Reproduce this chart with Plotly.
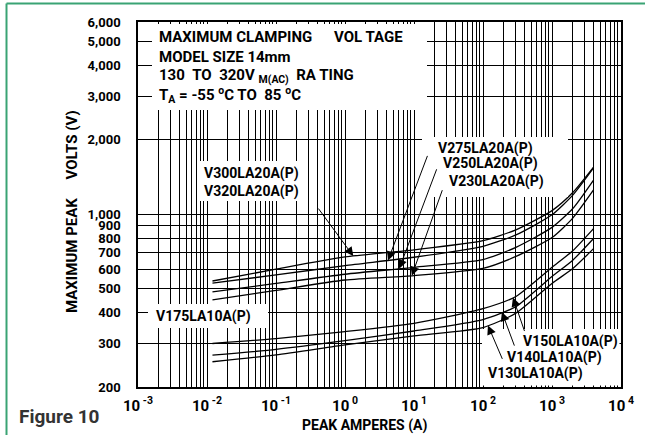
import numpy as np
import plotly.graph_objects as go

# ---------------- data ----------------
current_a = [0.012, 0.1, 1, 10, 100, 300, 1000, 2000, 4000]

v300_v320 = [537, 600, 672, 718, 782, 865, 1035, 1225, 1553]
v275 = [527, 568, 620, 670, 742, 825, 995, 1195, 1540]
v250 = [485, 525, 572, 610, 656, 735, 885, 1055, 1376]
v230 = [450, 492, 542, 565, 604, 675, 805, 965, 1254]
v150 = [300, 314, 335, 362, 415, 465, 610, 712, 875]
v140 = [269, 284, 308, 337, 375, 423, 560, 652, 798]
v130 = [253, 270, 296, 322, 348, 398, 525, 603, 726]

y_tick_vals = [200, 300, 400, 500, 600, 700, 800, 900, 1000, 2000, 3000, 4000, 5000, 6000]
y_tick_text = ["200", "300", "400", "500", "600", "700", "800", "900",
               "1,000", "2,000", "3,000", "4,000", "5,000", "6,000"]
x_decades = [-3, -2, -1, 0, 1, 2, 3, 4]

# arrow targets: (label, curve, current where the arrow touches)
arrow_targets = [
    ("V300", v300_v320, 1.32),
    ("V275", v275, 4.2),
    ("V250", v250, 6.1),
    ("V230", v230, 9.3),
    ("V150", v150, 272),
    ("V140", v140, 188),
    ("V130", v130, 118),
]

# ---------------- layout geometry ----------------
W, H = 645, 435
L, R, T, B = 138, 621, 22, 387  # plot area in pixels


def px(x):
    return (x - L) / (R - L)


def py(y):
    return (B - y) / (B - T)


FONT = "Roboto, Liberation Sans, Arial, sans-serif"

fig = go.Figure()

for ys in [v300_v320, v275, v250, v230, v150, v140, v130]:
    fig.add_trace(go.Scatter(
        x=current_a, y=ys, mode="lines",
        line=dict(color="black", width=1.3, shape="spline", smoothing=0.6),
        hoverinfo="skip", showlegend=False))

major_x = [10.0 ** d for d in x_decades]
major_x_text = [f"10<sup> {d}</sup>" for d in x_decades]
minor_x = [m * 10.0 ** d for d in x_decades[:-1] for m in range(2, 10)]

fig.update_xaxes(
    type="log", range=[-3, 4],
    tickmode="array", tickvals=major_x, ticktext=major_x_text,
    showgrid=True, gridcolor="black", gridwidth=1,
    minor=dict(tickmode="array", tickvals=minor_x, showgrid=True,
               gridcolor="black", gridwidth=1, ticks=""),
    showline=True, linecolor="black", linewidth=1.5, mirror=True,
    ticks="", ticklabelstandoff=4,
    tickfont=dict(family=FONT, size=15, color="black", weight="bold"),
    zeroline=False,
)
fig.update_yaxes(
    type="log", range=[np.log10(200), np.log10(6000)],
    tickmode="array", tickvals=y_tick_vals, ticktext=y_tick_text,
    showgrid=True, gridcolor="black", gridwidth=1,
    showline=True, linecolor="black", linewidth=1.5, mirror=True,
    ticks="", ticklabelstandoff=13,
    tickfont=dict(family=FONT, size=13, color="black", weight="bold"),
    zeroline=False,
)

# white boxes hiding the grid behind the texts
boxes = [
    (152, 24, 427, 110),
    (198, 161, 305, 201),
    (422, 137, 568, 197),
    (148, 304, 268, 328),
    (482, 329, 619.5, 385.5),
]
shapes = []
for x0, y0, x1, y1 in boxes:
    shapes.append(dict(type="rect", xref="paper", yref="paper",
                       x0=px(x0), x1=px(x1), y0=py(y1), y1=py(y0),
                       fillcolor="white", line=dict(width=0), layer="above"))
# green page frame
shapes.append(dict(type="line", xref="paper", yref="paper",
                   x0=px(6.5), x1=px(6.5), y0=py(H + 5), y1=py(3.5),
                   line=dict(color="#3aa374", width=2), layer="above"))
shapes.append(dict(type="line", xref="paper", yref="paper",
                   x0=px(6.5), x1=px(W + 5), y0=py(3.5), y1=py(3.5),
                   line=dict(color="#3aa374", width=2), layer="above"))

ann = []


def text(x, y, s, size=14, anchor="left", color="black"):
    ann.append(dict(xref="paper", yref="paper", x=px(x), y=py(y), text=s,
                    showarrow=False, xanchor=anchor, yanchor="middle",
                    font=dict(family=FONT, size=size, color=color, weight="bold")))


NB = "\u00a0"
text(157, 37, "MAXIMUM CLAMPING", 15)
text(332, 37, "VOL TAGE", 15)
text(157, 57, "MODEL SIZE 14mm", 15)
text(157, 76, f"130{NB}{NB}TO{NB}{NB}320V{NB}<sub>M(AC)</sub>{NB}{NB}RA TING", 15)
text(157, 95, f"T<sub>A</sub> = -55 <sup>o</sup>C TO{NB}{NB}85 <sup>o</sup>C", 15)

text(202, 174, "V300LA20A(P)", 14)
text(202, 191, "V320LA20A(P)", 14)
text(436, 148, "V275LA20A(P)", 14)
text(441, 164, "V250LA20A(P)", 14)
text(447, 181, "V230LA20A(P)", 14)
text(154, 316, "V175LA10A(P)", 14)
text(521, 341, "V150LA10A(P)", 14)
text(505, 357, "V140LA10A(P)", 14)
text(486, 373, "V130LA10A(P)", 14)

text(17, 416, "Figure 10", 19, color="#333333")
text(364, 426, "PEAK AMPERES (A)", 14, anchor="center")
ann.append(dict(xref="paper", yref="paper", x=px(72), y=py(212),
                text=f"MAXIMUM PEAK{NB}{NB}{NB}{NB}{NB}VOLTS (V)", textangle=-90,
                showarrow=False, xanchor="center", yanchor="middle",
                font=dict(family=FONT, size=15, color="black", weight="bold")))

# arrows (tail offsets in pixels)
tails = {"V300": (-36, -49), "V275": (40, -106), "V250": (38, -101),
         "V230": (31, -87), "V150": (12, 35), "V140": (13, 35), "V130": (15, 35)}
for name, curve, cur in arrow_targets:
    lv = np.interp(np.log10(cur), np.log10(current_a), np.log10(curve))
    axp, ayp = tails[name]
    ann.append(dict(xref="x", yref="y", x=np.log10(cur), y=lv, text="",
                    showarrow=True, ax=axp, ay=ayp, arrowhead=2, arrowsize=1.8,
                    arrowwidth=1, arrowcolor="black", standoff=0))

fig.update_layout(
    width=W, height=H, margin=dict(l=L, r=W - R, t=T, b=H - B, autoexpand=False),
    paper_bgcolor="white", plot_bgcolor="white",
    shapes=shapes, annotations=ann, showlegend=False,
)

fig.write_html("out.html", config={"displayModeBar": False},
               post_script="document.body.style.margin='0';")
